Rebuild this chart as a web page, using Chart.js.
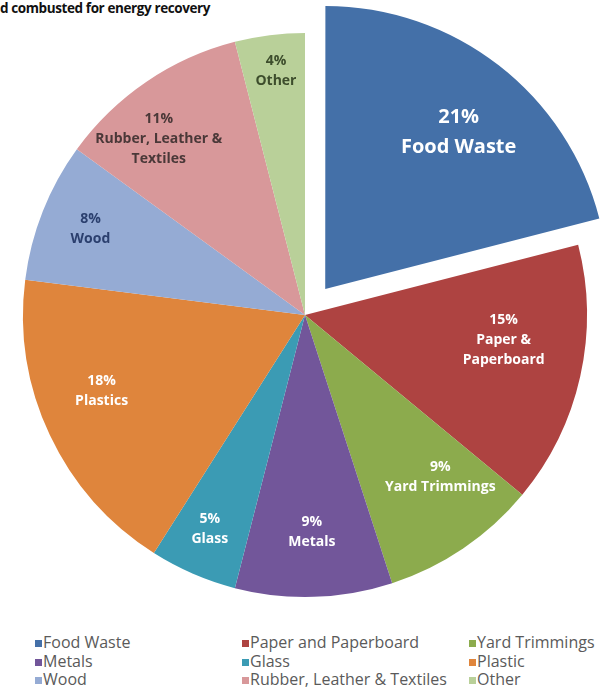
<!DOCTYPE html>
<html>
<head>
<meta charset="utf-8">
<script src="https://cdn.jsdelivr.net/npm/chart.js@4.4.0/dist/chart.umd.min.js"></script>
<style>
    body { margin: 0; background: #fff; width: 600px; height: 691px; overflow: hidden; position: relative; }
    #title { position: absolute; left: 0; top: -1px; font: bold 13.5px 'Open Sans', sans-serif; letter-spacing: -0.4px; color: #111; white-space: nowrap; }
    #chart { position: absolute; left: 0; top: 0; }
    .item { position: absolute; font: 16px 'Open Sans', sans-serif; color: #5a5a5a; white-space: nowrap; line-height: 18px; }
    .box { display: inline-block; width: 7px; height: 7px; margin-right: 1px; vertical-align: 1px; }
</style>
</head>
<body>
<div id="title">d combusted for energy recovery</div>
<canvas id="chart" width="600" height="625"></canvas>
<div id="legend"></div>
<script>
// share of waste by material, percent
const categories = ['Food Waste', 'Paper and Paperboard', 'Yard Trimmings', 'Metals', 'Glass', 'Plastic', 'Wood', 'Rubber, Leather & Textiles', 'Other']
const shares = [21, 15, 9, 9, 5, 18, 8, 11, 4]
const sliceNames = [['Food Waste'], ['Paper &', 'Paperboard'], ['Yard Trimmings'], ['Metals'], ['Glass'], ['Plastics'], ['Wood'], ['Rubber, Leather &', 'Textiles'], ['Other']]

const colors = ['#4470a8', '#ae4341', '#8cab4d', '#72569a', '#3b9bb4', '#df853c', '#95abd4', '#d8989a', '#b9d099']
const textColors = ['#fff', '#fff', '#fff', '#fff', '#fff', '#fff', '#2b3f6e', '#4a3838', '#3d4d2c']

// label placement: fraction of radius and small angle nudge (deg)
const labelRadius = [0.73, 0.71, 0.75, 0.77, 0.83, 0.77, 0.82, 0.81, 0.87]
const labelNudge = [2.6, -5.4, -5.6, 0, 0.6, 4.7, 0.3, -5.6, 0.4]

const sliceText = {
    id: 'sliceText',
    afterDatasetsDraw(chart) {
        let ctx = chart.ctx
        let meta = chart.getDatasetMeta(0)
        meta.data.forEach((arc, i) => {
            let p = arc.getProps(['x', 'y', 'startAngle', 'endAngle', 'outerRadius'], true)
            let mid = (p.startAngle + p.endAngle) / 2
            let shift = (arc.options.offset || 0) / 4
            let sx = p.x + Math.cos(mid) * shift
            let sy = p.y + Math.sin(mid) * shift
            let a = mid + labelNudge[i] * Math.PI / 180
            let r = p.outerRadius * labelRadius[i]
            let cx = sx + Math.cos(a) * r
            let cy = sy + Math.sin(a) * r
            let size = i === 0 ? 20 : 14
            let lh = i === 0 ? 30 : 20
            let lines = [shares[i] + '%'].concat(sliceNames[i])
            ctx.save()
            ctx.font = 'bold ' + size + 'px "Open Sans"'
            ctx.fillStyle = textColors[i]
            ctx.textAlign = 'center'
            ctx.textBaseline = 'middle'
            lines.forEach((t, k) => {
                ctx.fillText(t, cx, cy + (k - (lines.length - 1) / 2) * lh)
            })
            ctx.restore()
        })
    }
}

new Chart(document.getElementById('chart'), {
    type: 'pie',
    data: {
        labels: categories,
        datasets: [{
            data: shares,
            backgroundColor: colors,
            borderWidth: 0,
            offset: [132, 0, 0, 0, 0, 0, 0, 0, 0]
        }]
    },
    options: {
        responsive: false,
        animation: false,
        radius: 282,
        layout: { padding: { left: 10, right: 0, top: 10, bottom: 5 } },
        plugins: {
            legend: { display: false },
            tooltip: { enabled: false }
        }
    },
    plugins: [sliceText]
})

// legend grid, three columns, filled row by row
let lefts = [35, 242, 469]
let legend = document.getElementById('legend')
categories.forEach((name, i) => {
    let item = document.createElement('div')
    item.className = 'item'
    item.style.left = lefts[i % 3] + 'px'
    item.style.top = (633 + Math.floor(i / 3) * 18.5) + 'px'
    item.innerHTML = '<span class="box" style="background:' + colors[i] + '"></span>'
    item.appendChild(document.createTextNode(name))
    legend.appendChild(item)
})
</script>
</body>
</html>
